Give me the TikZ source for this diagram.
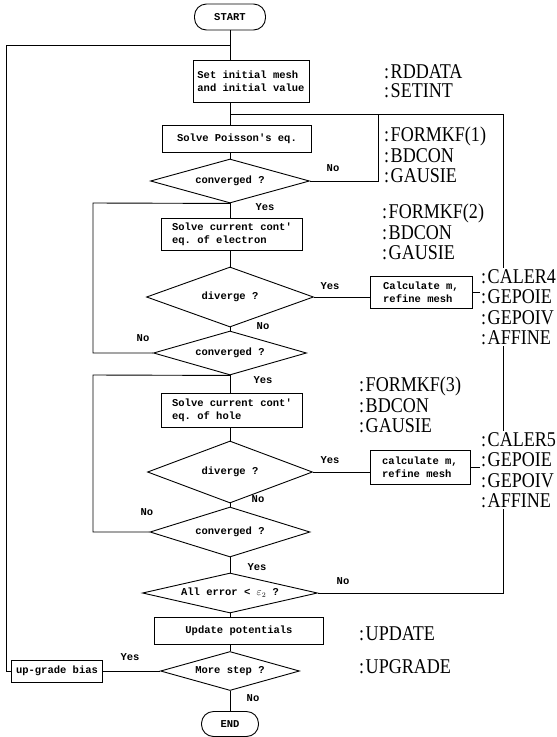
\documentclass[tikz,border=0pt]{standalone}
\usepackage{fontspec}
\setmainfont{Liberation Serif}
\setmonofont{Liberation Mono}
\newfontfamily\labfont{Liberation Serif}[FakeStretch=0.86]
\newcommand\colk{:\kern1.5pt}
\usetikzlibrary{shapes.geometric}
\begin{document}
\begin{tikzpicture}[x=1pt,y=-1pt,
  every node/.style={font=\ttfamily\bfseries\fontsize{10.5}{13}\selectfont, inner sep=0pt},
  proc/.style={draw, line width=0.9pt, rectangle, align=left},
  term/.style={draw, line width=0.9pt, rounded corners=12pt},
  dec/.style={draw, diamond, line width=0.9pt},
  lab/.style={font=\labfont\fontsize{21}{20.5}\selectfont, anchor=north west, align=left, inner sep=1pt},
  labw/.style={lab, fill=white},
  yn/.style={font=\ttfamily\bfseries\fontsize{10.5}{12}\selectfont},
  conn/.style={line width=0.9pt}]
\useasboundingbox (0,0) rectangle (557,737);

% axis and junction points
\coordinate (ax) at (230,0);
\coordinate (J0) at (230,45);
\coordinate (J1) at (230,114);
\coordinate (N1) at (378,114);
\coordinate (R1) at (503,114);
\coordinate (O1) at (6,45);
\coordinate (L1) at (93,203);
\coordinate (L2) at (93,375);
\coordinate (tx) at (480,0);

% flowchart nodes
\node[term, minimum width=71pt, minimum height=26pt] (start) at (230,17) {START};
\node[proc, minimum width=116pt, minimum height=42pt] (set) at (251,81) {Set initial mesh\\and initial value};
\node[proc, minimum width=149pt, minimum height=27pt] (pois) at (237,139) {Solve Poisson's eq.};
\node[dec, minimum width=159pt, minimum height=44pt] (d1) at (230,181) {\makebox[0pt]{converged ?}};
\node[proc, minimum width=141pt, minimum height=32pt] (elec) at (232,234) {Solve current cont'\\eq. of electron};
\node[dec, minimum width=167pt, minimum height=60pt] (dv1) at (230,297) {\makebox[0pt]{diverge ?}};
\node[proc, minimum width=102pt, minimum height=32pt] (c1) at (421,292) {Calculate m,\\refine mesh};
\node[dec, minimum width=153pt, minimum height=44pt] (cv2) at (230,353) {\makebox[0pt]{converged ?}};
\node[proc, minimum width=141pt, minimum height=34pt] (hole) at (232,410) {Solve current cont'\\eq. of hole};
\node[dec, minimum width=165pt, minimum height=62pt] (dv2) at (230,472) {\makebox[0pt]{diverge ?}};
\node[proc, minimum width=100pt, minimum height=34pt] (c2) at (420,467) {calculate m,\\refine mesh};
\node[dec, minimum width=160pt, minimum height=50pt] (cv3) at (230,532) {\makebox[0pt]{converged ?}};
\node[dec, minimum width=175pt, minimum height=40pt] (ae) at (230,593) {\makebox[0pt]{All error < $\varepsilon_2$ ?}};
\node[proc, minimum width=169pt, minimum height=27pt] (upd) at (239,631) {Update potentials};
\node[dec, minimum width=139pt, minimum height=39pt] (ms) at (230,671) {\makebox[0pt]{More step ?}};
\node[proc, minimum width=91pt, minimum height=22pt] (ub) at (57,671) {up-grade bias};
\node[term, minimum width=57pt, minimum height=25pt] (end) at (230,724) {END};

% connectors
\draw[conn] (start.south) -- (start.south |- set.north);
\draw[conn] (set.south -| ax) -- (pois.north -| ax);
\draw[conn] (pois.south -| ax) -- (d1.north);
\draw[conn] (d1.east) -| (N1);
\draw[conn] (ae.east) -| (R1) -- (J1);
\draw[conn] (d1.south) -- (elec.north -| ax);
\draw[conn] (elec.south -| ax) -- (dv1.north);
\draw[conn] (dv1.east) -- (dv1.east -| c1.west);
\draw[conn] (c1.east) -- (c1.east -| tx);
\draw[conn] (dv1.south) -- (cv2.north);
\draw[conn] (cv2.west) -| (L1) -- (d1.south);
\draw[conn] (cv2.south) -- (hole.north -| ax);
\draw[conn] (hole.south -| ax) -- (dv2.north);
\draw[conn] (dv2.east) -- (dv2.east -| c2.west);
\draw[conn] (c2.east) -- (c2.east -| tx);
\draw[conn] (dv2.south) -- (cv3.north);
\draw[conn] (cv3.west) -| (L2) -- (cv2.south);
\draw[conn] (cv3.south) -- (ae.north);
\draw[conn] (ae.south) -- (upd.north -| ax);
\draw[conn] (upd.south -| ax) -- (ms.north);
\draw[conn] (ms.south) -- (end.north);
\draw[conn] (ms.west) -- (ub.east);
\draw[conn] (ub.west) -| (O1) -- (J0);

% Yes / No labels
\node[yn] (n1) at (333,168) {No};
\node[yn] (y1) at (265,207) {Yes};
\node[yn] (y2) at (330,286) {Yes};
\node[yn] (n2) at (263,326) {No};
\node[yn] (n3) at (143,338) {No};
\node[yn] (y3) at (263,380) {Yes};
\node[yn] (y4) at (330,460) {Yes};
\node[yn] (n4) at (258,499) {No};
\node[yn] (n5) at (147,512) {No};
\node[yn] (y5) at (257,567) {Yes};
\node[yn] (n6) at (343,581) {No};
\node[yn] (y6) at (130,657) {Yes};
\node[yn] (n7) at (253,698) {No};

% subroutine labels
\node[lab, font=\labfont\fontsize{21}{19}\selectfont] (g0) at (383,63) {\colk RDDATA\\\colk SETINT};
\node[lab] (g1) at (383,126) {\colk FORMKF(1)\\\colk BDCON\\\colk GAUSIE};
\node[lab] (g2) at (381,203) {\colk FORMKF(2)\\\colk BDCON\\\colk GAUSIE};
\node[labw] (g4) at (480,268) {\colk CALER4\\\colk GEPOIE\\\colk GEPOIV\\\colk AFFINE};
\node[lab] (g3) at (358,376) {\colk FORMKF(3)\\\colk BDCON\\\colk GAUSIE};
\node[labw] (g5) at (480,431) {\colk CALER5\\\colk GEPOIE\\\colk GEPOIV\\\colk AFFINE};
\node[lab] (g6) at (358,625) {\colk UPDATE};
\node[lab] (g7) at (358,658) {\colk UPGRADE};
\end{tikzpicture}
\end{document}
